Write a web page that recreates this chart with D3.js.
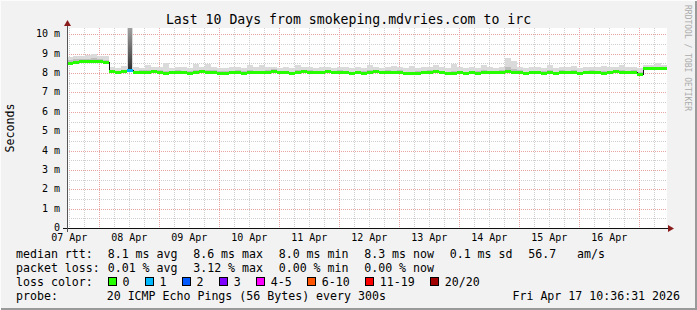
<!DOCTYPE html>
<html>
<head>
<meta charset="utf-8">
<script src="https://cdn.jsdelivr.net/npm/d3@7"></script>
<style>
  body { margin: 0; background: #f2f2f2; }
  svg { display: block; }
  text { font-family: "DejaVu Sans Mono", monospace; }
</style>
</head>
<body>
<svg id="chart" width="697" height="310"></svg>
<script>
const title = "Last 10 Days from smokeping.mdvries.com to irc";
const startTime = Date.UTC(2026, 3, 7, 11, 4);
const endTime = Date.UTC(2026, 3, 17, 11, 4);
const stepHours = 2.4;

// median rtt per 2.4h step (ms)
const median = [
  8.52, 8.56, 8.60, 8.60, 8.62, 8.58, 8.56, 8.06, 8.04, 8.06,
  8.16, 8.04, 8.05, 8.03, 8.06, 8.05, 7.98, 8.02, 8.05, 8.04,
  8.00, 8.05, 8.06, 8.04, 8.05, 7.99, 7.98, 8.04, 8.05, 7.98,
  8.03, 8.05, 8.02, 8.05, 8.10, 8.05, 8.03, 7.96, 8.04, 8.06,
  8.05, 8.03, 8.05, 8.06, 8.04, 8.05, 8.03, 7.97, 8.04, 7.98,
  8.05, 8.06, 8.04, 8.05, 8.03, 8.05, 7.97, 7.96, 7.99, 8.04,
  8.05, 8.06, 8.03, 7.97, 7.98, 8.04, 7.97, 8.04, 7.98, 8.05,
  8.04, 8.03, 8.05, 8.06, 8.04, 8.05, 7.97, 8.03, 8.04, 7.98,
  8.04, 7.97, 8.05, 8.04, 8.05, 7.97, 8.04, 8.05, 8.03, 7.98,
  8.04, 8.06, 8.05, 8.03, 8.05, 7.93, 8.22, 8.23, 8.23, 8.22
];
// dense part of the smoke (ms)
const upperQuart = [
  8.68, 8.72, 8.74, 8.75, 8.78, 8.72, 8.70, 8.15, 8.13, 8.16,
  10.33, 8.13, 8.14, 8.16, 8.15, 8.14, 8.12, 8.12, 8.14, 8.13,
  8.12, 8.16, 8.15, 8.16, 8.14, 8.10, 8.09, 8.13, 8.14, 8.09,
  8.14, 8.13, 8.12, 8.14, 8.20, 8.13, 8.12, 8.08, 8.16, 8.14,
  8.14, 8.12, 8.13, 8.14, 8.13, 8.14, 8.12, 8.08, 8.12, 8.10,
  8.16, 8.14, 8.13, 8.14, 8.12, 8.14, 8.08, 8.08, 8.10, 8.13,
  8.14, 8.17, 8.12, 8.08, 8.12, 8.13, 8.08, 8.13, 8.09, 8.15,
  8.13, 8.12, 8.14, 8.30, 8.20, 8.14, 8.08, 8.12, 8.13, 8.09,
  8.14, 8.08, 8.14, 8.13, 8.14, 8.08, 8.13, 8.14, 8.12, 8.10,
  8.13, 8.16, 8.15, 8.12, 8.14, 8.08, 8.30, 8.31, 8.32, 8.31
];
// highest ping per step (ms)
const maxPing = [
  8.85, 8.88, 8.90, 8.92, 8.97, 8.90, 8.88, 8.30, 8.25, 8.35,
  10.33, 8.30, 8.28, 8.42, 8.32, 8.30, 8.50, 8.28, 8.30, 8.32,
  8.28, 8.45, 8.30, 8.45, 8.30, 8.26, 8.28, 8.32, 8.30, 8.27,
  8.40, 8.30, 8.40, 8.30, 8.32, 8.28, 8.30, 8.25, 8.42, 8.30,
  8.32, 8.28, 8.30, 8.33, 8.28, 8.30, 8.30, 8.24, 8.30, 8.26,
  8.42, 8.30, 8.28, 8.32, 8.38, 8.30, 8.26, 8.38, 8.28, 8.30,
  8.30, 8.43, 8.30, 8.28, 8.46, 8.32, 8.26, 8.30, 8.28, 8.42,
  8.30, 8.28, 8.32, 8.76, 8.60, 8.30, 8.26, 8.30, 8.32, 8.28,
  8.40, 8.26, 8.32, 8.30, 8.38, 8.26, 8.30, 8.32, 8.30, 8.38,
  8.30, 8.32, 8.42, 8.30, 8.32, 8.28, 8.40, 8.42, 8.50, 8.40
];
// lost pings (of 20) per step
const lostPings = [
  0, 0, 0, 0, 0, 0, 0, 0, 0, 0,
  1, 0, 0, 0, 0, 0, 0, 0, 0, 0,
  0, 0, 0, 0, 0, 0, 0, 0, 0, 0,
  0, 0, 0, 0, 0, 0, 0, 0, 0, 0,
  0, 0, 0, 0, 0, 0, 0, 0, 0, 0,
  0, 0, 0, 0, 0, 0, 0, 0, 0, 0,
  0, 0, 0, 0, 0, 0, 0, 0, 0, 0,
  0, 0, 0, 0, 0, 0, 0, 0, 0, 0,
  0, 0, 0, 0, 0, 0, 0, 0, 0, 0,
  0, 0, 0, 0, 0, 0, 0, 0, 0, 0
];

const yTicks = [0, 1, 2, 3, 4, 5, 6, 7, 8, 9, 10];
const lossLabels = ["0", "1", "2", "3", "4-5", "6-10", "11-19", "20/20"];
const lossColors = ["#26ff00", "#00b8ff", "#0059ff", "#7e00ff", "#ff00ff", "#ff5500", "#ff0000", "#a10000"];
const lossLimits = [1, 2, 3, 4, 6, 11, 20];
const rttLegend = ["8.1 ms avg", "8.6 ms max", "8.0 ms min", "8.3 ms now", "0.1 ms sd", "56.7   am/s"];
const lossLegend = ["0.01 % avg", "3.12 % max", "0.00 % min", "0.00 % now"];
const probeText = "20 ICMP Echo Pings (56 Bytes) every 300s";
const stamp = "Fri Apr 17 10:36:31 2026";

const svg = d3.select("#chart");
const W = 697, H = 310;
const pLeft = 67, pRight = 667, pTop = 28, pBottom = 228;
const cw = 6.98; // char advance of the legend font

const defs = svg.append("defs");
const grad = defs.append("linearGradient").attr("id", "deep").attr("x1", 0).attr("y1", 0).attr("x2", 0).attr("y2", 1);
grad.append("stop").attr("offset", "0%").attr("stop-color", "#a0a0a0");
grad.append("stop").attr("offset", "45%").attr("stop-color", "#707070");
grad.append("stop").attr("offset", "100%").attr("stop-color", "#2e2e2e");

svg.append("rect").attr("width", W).attr("height", H).attr("fill", "#f2f2f2");
svg.append("path").attr("d", `M0.5,${H} V0.5 H${W}`).attr("fill", "none").attr("stroke", "#fcfcfc");
svg.append("path").attr("d", `M1,${H - 1} H${W - 1} V1`).attr("fill", "none").attr("stroke", "#9a9a9a").attr("stroke-width", 2);

const x = d3.scaleUtc().domain([startTime, endTime]).range([pLeft, pRight]);
const y = d3.scaleLinear().domain([0, 10.33]).range([pBottom, pTop]);
const lossColor = d3.scaleThreshold().domain(lossLimits).range(lossColors);

svg.append("rect").attr("x", pLeft).attr("y", pTop).attr("width", pRight - pLeft).attr("height", pBottom - pTop).attr("fill", "#fff");

// grid
const grid = svg.append("g").attr("shape-rendering", "crispEdges");
const halfSteps = d3.range(0.5, 10.4, 1);
grid.selectAll(".hmin").data(halfSteps).enter().append("line")
  .attr("x1", pLeft).attr("x2", pRight)
  .attr("y1", d => Math.round(y(d)) + 0.5).attr("y2", d => Math.round(y(d)) + 0.5)
  .attr("stroke", "#cfcfcf").attr("stroke-dasharray", "1,1");
const hours = d3.utcHour.every(6).range(startTime, endTime).filter(d => d.getUTCHours() !== 0);
grid.selectAll(".vmin").data(hours).enter().append("line")
  .attr("y1", pTop).attr("y2", pBottom)
  .attr("x1", d => Math.round(x(d)) + 0.5).attr("x2", d => Math.round(x(d)) + 0.5)
  .attr("stroke", "#cfcfcf").attr("stroke-dasharray", "1,1");
grid.selectAll(".hmaj").data(yTicks.slice(1)).enter().append("line")
  .attr("x1", pLeft).attr("x2", pRight)
  .attr("y1", d => Math.round(y(d)) + 0.5).attr("y2", d => Math.round(y(d)) + 0.5)
  .attr("stroke", "#e9a3a3").attr("stroke-dasharray", "1,1");
const days = d3.utcDay.range(startTime, endTime);
grid.selectAll(".vmaj").data(days).enter().append("line")
  .attr("y1", pTop).attr("y2", pBottom)
  .attr("x1", d => Math.round(x(d)) + 0.5).attr("x2", d => Math.round(x(d)) + 0.5)
  .attr("stroke", "#e9a3a3").attr("stroke-dasharray", "1,1");

// smoke + median
const steps = median.map((m, i) => ({
  t0: startTime + i * stepHours * 3600e3,
  t1: startTime + (i + 1) * stepHours * 3600e3,
  med: m, q: upperQuart[i], hi: maxPing[i], lost: lostPings[i]
}));
const plot = svg.append("g").attr("shape-rendering", "crispEdges");

plot.selectAll(".smoke").data(steps).enter().append("rect")
  .attr("x", d => x(d.t0)).attr("width", d => x(d.t1) - x(d.t0))
  .attr("y", d => y(d.hi)).attr("height", d => y(d.med) - y(d.hi))
  .attr("fill", "#dadada");
plot.selectAll(".core").data(steps).enter().append("rect")
  .attr("x", d => d.q - d.med > 1 ? x(d.t0) + 1 : x(d.t0))
  .attr("width", d => d.q - d.med > 1 ? x(d.t1) - x(d.t0) - 2 : x(d.t1) - x(d.t0))
  .attr("y", d => y(d.q)).attr("height", d => y(d.med) - y(d.q))
  .attr("fill", d => d.q - d.med > 1 ? "url(#deep)" : "#bdbdbd");

const stepLine = d3.line().curve(d3.curveStepAfter).x(d => x(d[0])).y(d => y(d[1]));
const pts = steps.map(d => [d.t0, d.med]).concat([[endTime, median[median.length - 1]]]);
plot.append("path").attr("d", stepLine(pts)).attr("fill", "none").attr("stroke", "#111").attr("stroke-width", 1);

plot.selectAll(".med").data(steps).enter().append("rect")
  .attr("x", d => x(d.t0)).attr("width", d => x(d.t1) - x(d.t0))
  .attr("y", d => y(d.med) - 1.5).attr("height", 3)
  .attr("fill", d => lossColor(d.lost));

// axes
svg.append("line").attr("x1", 63).attr("x2", 670).attr("y1", pBottom + 0.5).attr("y2", pBottom + 0.5)
  .attr("stroke", "#111");
svg.append("line").attr("x1", pLeft + 0.5).attr("x2", pLeft + 0.5).attr("y1", pBottom + 4).attr("y2", 24)
  .attr("stroke", "#555");
svg.append("path").attr("d", `M${pLeft + 0.5},20 L${pLeft - 3},26 L${pLeft + 4},26 Z`).attr("fill", "#8a1c1c");
svg.append("path").attr("d", `M674,${pBottom + 0.5} L668,${pBottom - 3} L668,${pBottom + 4} Z`).attr("fill", "#8a1c1c");

// tick labels
const noons = days.map(d => +d - 12 * 3600e3).concat([+days[days.length - 1] + 12 * 3600e3])
  .filter(t => t > startTime && t < endTime);
svg.selectAll(".ylab").data(yTicks).enter().append("text")
  .attr("x", 60).attr("y", d => y(d) + 3)
  .attr("text-anchor", "end").attr("font-size", 10)
  .text(d => d === 0 ? "0" : d + " m");
svg.selectAll(".xlab").data(noons).enter().append("text")
  .attr("x", d => x(d)).attr("y", 240.5)
  .attr("text-anchor", "middle").attr("font-size", 10)
  .text(d => d3.utcFormat("%d %b")(new Date(d)));

// titles
svg.append("text").attr("x", 348.5).attr("y", 24).attr("text-anchor", "middle")
  .attr("font-size", 13.2).text(title);
svg.append("text").attr("transform", "translate(14,128) rotate(-90)").attr("text-anchor", "middle")
  .attr("font-size", 11.6).text("Seconds");
svg.append("text").attr("transform", "translate(685,5) rotate(90)")
  .attr("font-size", 8).attr("fill", "#ababab").text("RRDTOOL / TOBI OETIKER");

// legend
const fs = 11.6;
function row(label, items, yy) {
  svg.append("text").attr("x", 16).attr("y", yy).attr("font-size", fs).text(label);
  let xx = 107.7;
  items.forEach(s => {
    svg.append("text").attr("x", xx).attr("y", yy).attr("font-size", fs).attr("xml:space", "preserve").text(s);
    xx += s.length * cw + 15.7;
  });
}
row("median rtt:", rttLegend, 257.5);
row("packet loss:", lossLegend, 271.5);
svg.append("text").attr("x", 16).attr("y", 285.5).attr("font-size", fs).text("loss color:");
let lx = 108;
lossLabels.forEach((s, i) => {
  svg.append("rect").attr("x", Math.round(lx) + 0.5).attr("y", 277.5).attr("width", 8).attr("height", 8)
    .attr("fill", lossColors[i]).attr("stroke", "#000").attr("shape-rendering", "crispEdges");
  svg.append("text").attr("x", lx + 14.4).attr("y", 285.5).attr("font-size", fs).text(s);
  lx += 14.4 + s.length * cw + 15.7;
});
svg.append("text").attr("x", 16).attr("y", 299.5).attr("font-size", fs).text("probe:");
svg.append("text").attr("x", 106.7).attr("y", 299.5).attr("font-size", fs).text(probeText);
svg.append("text").attr("x", 680).attr("y", 299.5).attr("text-anchor", "end").attr("font-size", fs).text(stamp);
</script>
</body>
</html>
